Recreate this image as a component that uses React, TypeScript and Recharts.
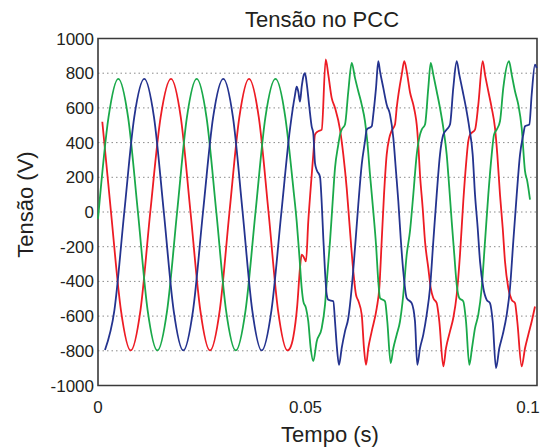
import { LineChart, Line, XAxis, YAxis, CartesianGrid, ReferenceArea } from "recharts";

// [tempo (s), tensão (V)], one array per phase
const phaseRed: [number, number][] = [
  [0.00098, 520], [0.00296, 0], [0.00522, -565], [0.00745, -798], [0.00968, -565], [0.01191, 0],
  [0.01426, 545], [0.01663, 767], [0.01886, 545], [0.02107, 0], [0.0233, -565], [0.02551, -798],
  [0.02774, -565], [0.02995, 0], [0.03219, 545], [0.0344, 767], [0.03663, 545], [0.03884, 0],
  [0.041, -565], [0.04317, -798], [0.04374, -785], [0.04449, -720], [0.0454, -535], [0.04601, -323],
  [0.0464, -246], [0.04677, -255], [0.04738, -285], [0.0479, -54], [0.04845, 138], [0.04904, 331],
  [0.04943, 446], [0.05011, 465], [0.05096, 475], [0.05187, 879], [0.05246, 792], [0.05323, 658],
  [0.05399, 600], [0.05513, 475], [0.05588, 331], [0.05665, 138], [0.05724, -54], [0.05816, -342],
  [0.05877, -477], [0.05929, -512], [0.06007, -592], [0.06059, -785], [0.06105, -881], [0.06157, -785],
  [0.06235, -688], [0.06349, -554], [0.06408, -438], [0.06462, -169], [0.06515, 100], [0.06576, 331],
  [0.06636, 427], [0.0669, 469], [0.06765, 504], [0.06804, 600], [0.06918, 792], [0.06977, 869],
  [0.07032, 811], [0.07107, 690], [0.07182, 619], [0.07221, 571], [0.0726, 504], [0.07296, 388],
  [0.07335, 215], [0.07396, 23], [0.07449, -169], [0.07524, -323], [0.07579, -438], [0.07638, -496],
  [0.07715, -525], [0.07775, -631], [0.07866, -890], [0.07927, -785], [0.08018, -688], [0.08093, -611],
  [0.08171, -477], [0.08246, -246], [0.08321, 62], [0.08383, 273], [0.08435, 408], [0.08474, 446],
  [0.08588, 475], [0.08663, 619], [0.08763, 869], [0.08816, 792], [0.08891, 696], [0.08968, 600],
  [0.09043, 485], [0.09096, 331], [0.09157, 100], [0.09219, -92], [0.09271, -285], [0.09346, -438],
  [0.09424, -506], [0.09499, -525], [0.09551, -631], [0.09651, -890], [0.09727, -785], [0.09802, -707],
  [0.09879, -631], [0.09954, -545],
];

const phaseGreen: [number, number][] = [
  [0, -40], [0.00239, 545], [0.00462, 767], [0.00686, 545], [0.00909, 0], [0.0113, -565],
  [0.01353, -798], [0.01576, -565], [0.01802, 0], [0.02025, 545], [0.02248, 767], [0.02472, 545],
  [0.02695, 0], [0.02916, -565], [0.03139, -798], [0.03362, -565], [0.03588, 0], [0.03813, 545],
  [0.04043, 767], [0.04267, 545], [0.04374, 320], [0.04449, 138], [0.04526, -54], [0.04585, -246],
  [0.0464, -438], [0.04677, -515], [0.04738, -554], [0.0479, -631], [0.04845, -785], [0.04904, -860],
  [0.04982, -746], [0.05096, -669], [0.05171, -535], [0.05223, -362], [0.05285, -169], [0.05346, 62],
  [0.05399, 254], [0.05474, 388], [0.05513, 446], [0.05551, 475], [0.05626, 504], [0.05702, 696],
  [0.05779, 860], [0.05854, 773], [0.05929, 696], [0.06007, 619], [0.06082, 523], [0.06134, 408],
  [0.06196, 215], [0.06271, 4], [0.06333, -188], [0.06385, -400], [0.06424, -496], [0.06538, -515],
  [0.0659, -631], [0.06667, -871], [0.06727, -785], [0.06804, -707], [0.06879, -631], [0.06954, -477],
  [0.07032, -246], [0.07107, -110], [0.07182, 100], [0.0726, 331], [0.07335, 446], [0.07374, 475],
  [0.07449, 504], [0.07524, 715], [0.07579, 860], [0.07638, 792], [0.07715, 696], [0.0779, 600],
  [0.07866, 485], [0.07943, 331], [0.08002, 138], [0.08057, -54], [0.08116, -246], [0.08171, -419],
  [0.0823, -496], [0.08321, -515], [0.08383, -631], [0.08458, -881], [0.08519, -785], [0.08588, -669],
  [0.08663, -592], [0.0874, -438], [0.08816, -169], [0.08891, 100], [0.08968, 331], [0.09021, 446],
  [0.09082, 475], [0.09157, 523], [0.09232, 715], [0.09362, 869], [0.09424, 792], [0.09499, 696],
  [0.09574, 619], [0.09651, 485], [0.09727, 235], [0.09779, 177], [0.09841, 71],
];

const phaseBlue: [number, number][] = [
  [0.00159, -795], [0.00374, -565], [0.00599, 0], [0.00825, 545], [0.01055, 767], [0.01276, 545],
  [0.01499, 0], [0.01722, -565], [0.01943, -798], [0.02166, -565], [0.02392, 0], [0.02622, 545],
  [0.02854, 767], [0.03075, 545], [0.03294, 0], [0.03513, -565], [0.03729, -798], [0.03952, -565],
  [0.04178, 0], [0.04374, 480], [0.04487, 674], [0.04526, 722], [0.04563, 693], [0.04601, 636],
  [0.0464, 722], [0.04677, 780], [0.04715, 800], [0.04754, 742], [0.04813, 607], [0.04868, 492],
  [0.04904, 453], [0.04943, 282], [0.04982, 242], [0.05057, 203], [0.05096, 52], [0.05132, -150],
  [0.05171, -342], [0.0521, -477], [0.05246, -506], [0.0536, -515], [0.05399, -631], [0.05437, -765],
  [0.0549, -881], [0.05551, -785], [0.05626, -688], [0.05702, -611], [0.05779, -438], [0.05854, -208],
  [0.05929, 42], [0.06007, 273], [0.06082, 408], [0.06121, 475], [0.06235, 494], [0.06271, 561],
  [0.06333, 715], [0.06385, 869], [0.06424, 811], [0.06499, 715], [0.06576, 619], [0.06652, 561],
  [0.06727, 427], [0.06788, 235], [0.06841, 62], [0.06895, -150], [0.06954, -342], [0.07032, -496],
  [0.07146, -525], [0.07221, -631], [0.07273, -881], [0.07335, -785], [0.0741, -707], [0.07487, -592],
  [0.07563, -438], [0.07638, -169], [0.07715, 100], [0.0779, 331], [0.07866, 446], [0.07943, 475],
  [0.08018, 504], [0.08093, 715], [0.08171, 869], [0.0823, 792], [0.08308, 696], [0.08383, 600],
  [0.08458, 485], [0.08535, 331], [0.08588, 100], [0.08649, -92], [0.08702, -285], [0.08777, -438],
  [0.08854, -506], [0.08929, -525], [0.08991, -631], [0.09066, -900], [0.09141, -785], [0.09219, -707],
  [0.0931, -592], [0.09385, -438], [0.0946, -169], [0.09538, 100], [0.09613, 331], [0.09688, 446],
  [0.09727, 494], [0.09825, 504], [0.09879, 677], [0.09954, 850], [0.09993, 830],
];

const xTicks = [0, 0.05, 0.1];
const yTicks = [-1000, -800, -600, -400, -200, 0, 200, 400, 600, 800, 1000];

const toRows = (pts: [number, number][]) => pts.map(([t, v]) => ({ t, v }));

const FONT = "'Liberation Sans', Arial, sans-serif";
const INK = "#231f20";

// the exported figure has its x labels nudged left a bit
const xLabelShift: Record<string, number> = { "0": 0, "0.05": -12, "0.1": -7 };

function XTick(props: any) {
  const { x, y, payload } = props;
  const label = String(payload.value);
  return (
    <text x={x + (xLabelShift[label] ?? 0)} y={y} dy="0.71em" textAnchor="middle"
      fontSize={17} fill={INK} fontFamily={FONT}>
      {label}
    </text>
  );
}

export default function App() {
  return (
    <div style={{ position: "relative", width: 545, height: 448, background: "#fff" }}>
      <style>{"body{margin:0}"}</style>
      <LineChart
        width={545}
        height={448}
        margin={{ top: 38.5, right: 8, left: 38, bottom: 22.5 }}
        style={{ fontFamily: FONT }}
      >
        <CartesianGrid vertical={false} stroke="#8a8a8a" strokeDasharray="1.5 3" />
        <XAxis
          type="number"
          dataKey="t"
          domain={[0, 0.1]}
          ticks={xTicks}
          height={40}
          axisLine={false}
          tickLine={false}
          tickSize={0}
          tickMargin={15}
          tick={<XTick />}
        />
        <YAxis
          type="number"
          domain={[-1000, 1000]}
          ticks={yTicks}
          width={60}
          axisLine={false}
          tickLine={false}
          tickSize={0}
          tickMargin={4}
          tick={{ fontSize: 17, fill: INK, fontFamily: FONT }}
        />
        <Line data={toRows(phaseRed)} dataKey="v" type="monotone" stroke="#ed1c24"
          strokeWidth={1.8} dot={false} activeDot={false} isAnimationActive={false} />
        <Line data={toRows(phaseGreen)} dataKey="v" type="monotone" stroke="#1aa94a"
          strokeWidth={1.8} dot={false} activeDot={false} isAnimationActive={false} />
        <Line data={toRows(phaseBlue)} dataKey="v" type="monotone" stroke="#24338f"
          strokeWidth={1.8} dot={false} activeDot={false} isAnimationActive={false} />
        <ReferenceArea x1={0} x2={0.1} y1={-1000} y2={1000} fill="none" stroke="#3a3a3a"
          strokeWidth={1.6} ifOverflow="visible" />
      </LineChart>
      <svg width={545} height={448} style={{ position: "absolute", left: 0, top: 0, pointerEvents: "none" }}>
        <text x={322} y={27} textAnchor="middle" fontSize={22} fill={INK} fontFamily={FONT}>
          Tensão no PCC
        </text>
        <text x={330} y={441.5} textAnchor="middle" fontSize={22} fill={INK} fontFamily={FONT}>
          Tempo (s)
        </text>
        <text x={32.5} y={204.5} transform="rotate(-90 32.5 204.5)" textAnchor="middle"
          fontSize={22} fill={INK} fontFamily={FONT}>
          Tensão (V)
        </text>
      </svg>
    </div>
  );
}
